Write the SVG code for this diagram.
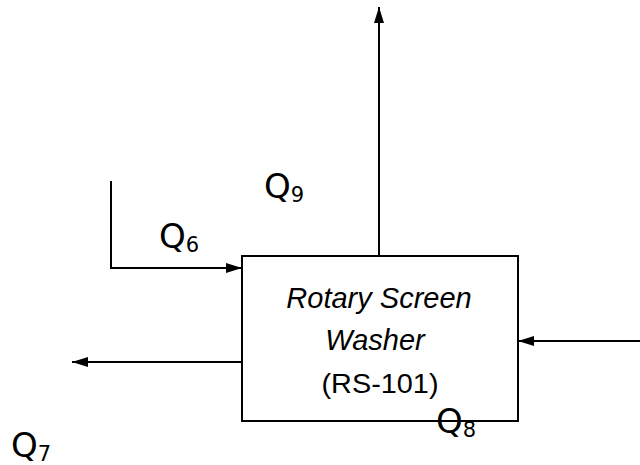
<svg xmlns="http://www.w3.org/2000/svg" width="640" height="465" viewBox="0 0 640 465">
<style>
.ln{fill:none;stroke:#000;stroke-width:2}
.box{fill:#fff;stroke:#000;stroke-width:2}
.t{font-family:"Liberation Sans",Arial,sans-serif;font-size:29px;fill:#000;text-anchor:middle}
.r{font-size:28px}
.q{font-family:"DejaVu Sans",sans-serif;font-size:34px;fill:#000}
.s{font-size:21px}
</style>
<defs>
<marker id="ah" markerUnits="userSpaceOnUse" markerWidth="16" markerHeight="10" refX="16" refY="5" orient="auto">
<path d="M0,0 L16,5 L0,10 z" fill="#000"/>
</marker>
</defs>
<rect width="640" height="465" fill="#fff"/>
<g id="connectors">
<path class="ln" d="M379,256 L379,7" marker-end="url(#ah)"/>
<path class="ln" d="M111,181 L111,268 L242,268" marker-end="url(#ah)"/>
<path class="ln" d="M242,362 L72,362" marker-end="url(#ah)"/>
<path class="ln" d="M640,341 L518,341" marker-end="url(#ah)"/>
</g>
<g id="washer">
<rect class="box" x="242" y="256" width="276" height="165"/>
<text class="t" x="379" y="308" font-style="italic">Rotary Screen</text>
<text class="t" x="375" y="350" font-style="italic">Washer</text>
<text class="t r" x="380" y="393" textLength="117" lengthAdjust="spacingAndGlyphs">(RS-101)</text>
</g>
<g id="labels">
<text class="q" x="159" y="248">Q<tspan class="s" dy="4">6</tspan></text>
<text class="q" x="264" y="198">Q<tspan class="s" dy="4">9</tspan></text>
<text class="q" x="436" y="433">Q<tspan class="s" dy="4">8</tspan></text>
<text class="q" x="11" y="457">Q<tspan class="s" dy="4">7</tspan></text>
</g>
</svg>
